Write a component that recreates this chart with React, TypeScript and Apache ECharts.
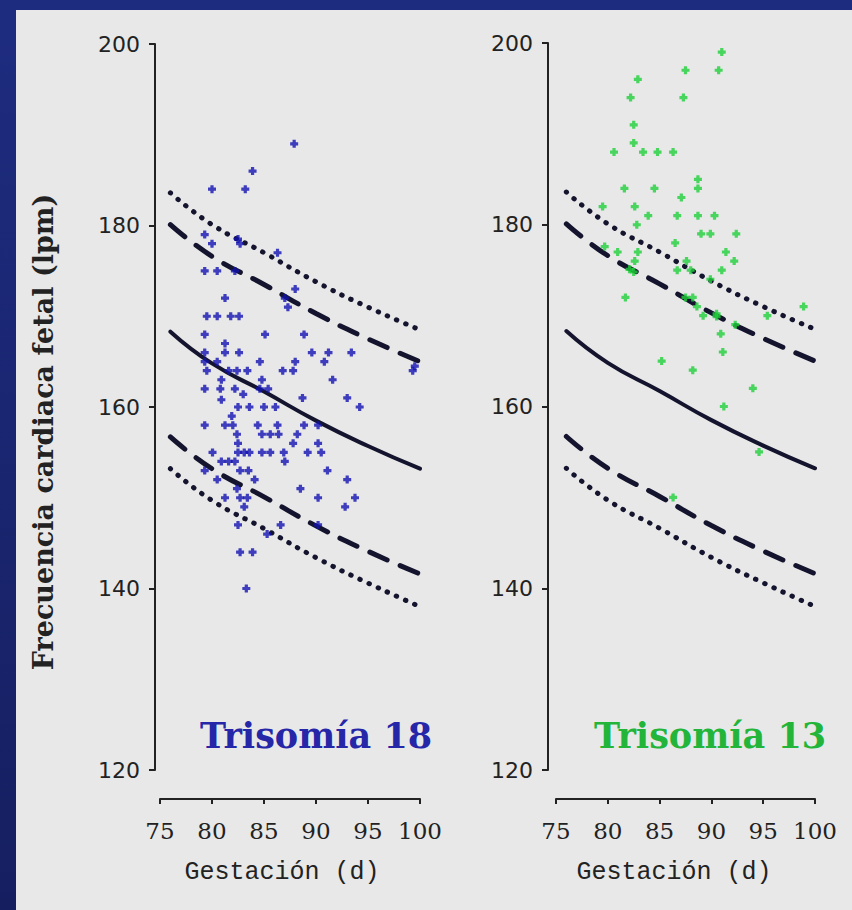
import React, { useEffect, useRef } from "react";
import * as echarts from "echarts";

const xTicks = [75, 80, 85, 90, 95, 100];
const yTicks = [120, 140, 160, 180, 200];
const curveX = [76, 80, 85, 90, 95, 100];
const meanCurve = [168.3, 164.8, 161.7, 158.5, 155.7, 153.2];
const upperDashed = [180.1, 176.6, 173.5, 170.3, 167.5, 165.0];
const upperDotted = [183.6, 180.1, 177.0, 173.8, 171.0, 168.5];
const lowerDashed = [156.7, 153.2, 150.1, 146.9, 144.1, 141.6];
const lowerDotted = [153.2, 149.7, 146.6, 143.4, 140.6, 138.0];

const trisomy18 = [
  [87.9, 189], [83.9, 186], [80.0, 184], [83.2, 184], [79.3, 179], [80.0, 178],
  [82.5, 178.5], [82.7, 178], [86.3, 177], [79.3, 175], [80.5, 175], [82.2, 175],
  [88.0, 173], [81.25, 172], [87.0, 172], [87.3, 171], [79.5, 170], [80.5, 170],
  [81.8, 170], [82.6, 170], [79.3, 168], [85.1, 168], [88.85, 168], [81.25, 167],
  [81.25, 166], [79.3, 166], [82.6, 166], [89.6, 166], [91.2, 166], [93.4, 166],
  [79.3, 165], [80.5, 165], [84.6, 165], [88.0, 165], [90.8, 165], [79.5, 164],
  [81.6, 164], [82.4, 164], [83.4, 164], [86.8, 164], [87.8, 164], [99.3, 164],
  [99.5, 164.5], [80.9, 163], [84.8, 163], [91.6, 163], [79.3, 162], [80.8, 162],
  [82.2, 162], [84.6, 162], [85.4, 162], [83.0, 161.4], [88.7, 161], [93.0, 161],
  [80.9, 160.8], [82.5, 160], [83.6, 160], [85.0, 160], [86.1, 160], [94.2, 160],
  [81.9, 159], [79.3, 158], [81.25, 158], [82.0, 158], [84.4, 158], [86.3, 158],
  [88.85, 158], [90.2, 158], [82.4, 157], [84.8, 157], [85.6, 157], [86.4, 157],
  [88.2, 157], [82.5, 156], [87.8, 156], [90.2, 156], [80.05, 155], [82.5, 155],
  [83.1, 155], [83.6, 155], [84.8, 155], [85.6, 155], [86.9, 155], [89.2, 155],
  [90.5, 155], [80.9, 154], [81.6, 154], [82.2, 154], [87.0, 154], [79.3, 153],
  [82.7, 153], [83.5, 153], [91.1, 153], [80.5, 152], [84.1, 152], [93.0, 152],
  [82.4, 151], [88.5, 151], [81.25, 150], [82.7, 150], [83.4, 150], [90.2, 150],
  [93.75, 150], [83.1, 149], [92.8, 149], [82.5, 147], [86.6, 147], [90.2, 147],
  [85.3, 146], [82.7, 144], [83.9, 144], [83.3, 140],
];

const trisomy13 = [
  [91.0, 199], [87.5, 197], [90.7, 197], [82.9, 196], [82.2, 194], [87.3, 194],
  [82.5, 191], [82.5, 189], [80.6, 188], [83.4, 188], [84.8, 188], [86.3, 188],
  [88.7, 185], [88.7, 184], [81.6, 184], [84.5, 184], [87.1, 183], [79.5, 182],
  [82.6, 182], [83.9, 181], [86.7, 181], [88.7, 181], [90.3, 181], [82.8, 180],
  [89.0, 179], [89.9, 179], [92.4, 179], [86.5, 178], [79.7, 177.6], [80.95, 177],
  [82.9, 177], [91.4, 177], [82.6, 176], [87.6, 176], [92.2, 176], [82.1, 175.1],
  [82.5, 174.8], [86.7, 175], [88.0, 175], [91.0, 175], [89.9, 174], [81.7, 172],
  [87.5, 172], [88.2, 172], [88.6, 171], [98.9, 171], [89.2, 170], [90.5, 170.2],
  [90.5, 169.9], [95.4, 170], [92.3, 169], [90.9, 168], [91.1, 166], [85.2, 165],
  [88.2, 164], [94.0, 162], [91.2, 160], [94.6, 155], [86.3, 150],
];

const plusSymbol = "path://M2.4,0H5.6V2.2L5.8,2.2V2.4H8V5.6H5.8V5.8H5.6V8H2.4V5.8H2.2V5.6H0V2.4H2.2V2.2H2.4Z";
const lineColor = "#14142e";
const axisColor = "#222222";

function curveData(vals: number[]) {
  return curveX.map((x, i) => [x, vals[i]]);
}

export default function App() {
  const ref = useRef<HTMLDivElement>(null);
  useEffect(() => {
    if (!ref.current) return;
    const chart = echarts.init(ref.current, undefined, { renderer: "svg" });

    const grids = [
      { left: 160, top: 44, width: 260, height: 726 },
      { left: 556, top: 43, width: 259, height: 727 },
    ];
    const xAxes = grids.map((_, i) => ({
      type: "value",
      gridIndex: i,
      min: 75,
      max: 100,
      interval: 5,
      offset: 29,
      splitLine: { show: false },
      axisLine: { show: true, lineStyle: { color: axisColor, width: 2 } },
      axisTick: { show: true, length: 5, lineStyle: { color: axisColor, width: 2 } },
      axisLabel: {
        margin: 20,
        fontFamily: "DejaVu Serif",
        fontSize: 23,
        color: "#222",
        formatter: (v: number) => (xTicks.includes(v) ? String(v) : ""),
      },
    }));
    const yAxes = grids.map((_, i) => ({
      type: "value",
      gridIndex: i,
      min: 120,
      max: 200,
      interval: 20,
      offset: i === 0 ? 5 : 8,
      splitLine: { show: false },
      axisLine: { show: true, lineStyle: { color: axisColor, width: 2 } },
      axisTick: { show: true, length: 6, lineStyle: { color: axisColor, width: 2 } },
      axisLabel: {
        margin: 15,
        fontFamily: "DejaVu Sans",
        fontSize: 22,
        color: "#222",
        formatter: (v: number) => (yTicks.includes(v) ? String(v) : ""),
      },
    }));

    const curveSeries = (gi: number) => [
      { vals: meanCurve, type: "solid", width: 4 },
      { vals: upperDashed, type: [19, 14], width: 5 },
      { vals: lowerDashed, type: [19, 14], width: 5 },
      { vals: upperDotted, type: [0.5, 9.5], width: 5 },
      { vals: lowerDotted, type: [0.5, 9.5], width: 5 },
    ].map((c) => ({
      type: "line",
      xAxisIndex: gi,
      yAxisIndex: gi,
      data: curveData(c.vals),
      smooth: true,
      showSymbol: false,
      symbol: "none",
      z: 3,
      lineStyle: { color: lineColor, width: c.width, type: c.type, cap: "round" },
    }));

    chart.setOption({
      animation: false,
      backgroundColor: new echarts.graphic.LinearGradient(0, 0, 0, 1, [
        { offset: 0, color: "#1e2c80" },
        { offset: 1, color: "#151f60" },
      ]),
      grid: grids,
      xAxis: xAxes,
      yAxis: yAxes,
      graphic: [
        {
          type: "rect",
          z: -10,
          shape: { x: 16, y: 10, width: 836, height: 900 },
          style: { fill: "#e8e8e8" },
        },
        {
          type: "text",
          x: 43,
          y: 432,
          rotation: Math.PI / 2,
          style: {
            text: "Frecuencia cardiaca fetal (lpm)",
            fontFamily: "DejaVu Serif",
            fontWeight: "bold",
            fontSize: 27,
            fill: "#222",
            align: "center",
            verticalAlign: "middle",
          },
        },
        {
          type: "text",
          x: 316,
          y: 735,
          style: {
            text: "Trisomía 18",
            fontFamily: "DejaVu Serif",
            fontWeight: "bold",
            fontSize: 35,
            fill: "#2626a8",
            align: "center",
            verticalAlign: "middle",
          },
        },
        {
          type: "text",
          x: 710,
          y: 735,
          style: {
            text: "Trisomía 13",
            fontFamily: "DejaVu Serif",
            fontWeight: "bold",
            fontSize: 35,
            fill: "#22b53a",
            align: "center",
            verticalAlign: "middle",
          },
        },
        {
          type: "text",
          x: 282,
          y: 872,
          style: {
            text: "Gestación (d)",
            fontFamily: "Liberation Mono",
            fontSize: 25,
            fill: "#222",
            align: "center",
            verticalAlign: "middle",
          },
        },
        {
          type: "text",
          x: 674,
          y: 872,
          style: {
            text: "Gestación (d)",
            fontFamily: "Liberation Mono",
            fontSize: 25,
            fill: "#222",
            align: "center",
            verticalAlign: "middle",
          },
        },
      ],
      series: [
        ...curveSeries(0),
        ...curveSeries(1),
        {
          type: "scatter",
          xAxisIndex: 0,
          yAxisIndex: 0,
          data: trisomy18,
          symbol: plusSymbol,
          symbolSize: 8,
          z: 4,
          itemStyle: { color: "#1212b2" },
        },
        {
          type: "scatter",
          xAxisIndex: 1,
          yAxisIndex: 1,
          data: trisomy13,
          symbol: plusSymbol,
          symbolSize: 8,
          z: 4,
          itemStyle: { color: "#1fd03a" },
        },
      ],
    });
    return () => chart.dispose();
  }, []);
  return (
    <div
      ref={ref}
      style={{ position: "fixed", left: 0, top: 0, width: 852, height: 910 }}
    />
  );
}
